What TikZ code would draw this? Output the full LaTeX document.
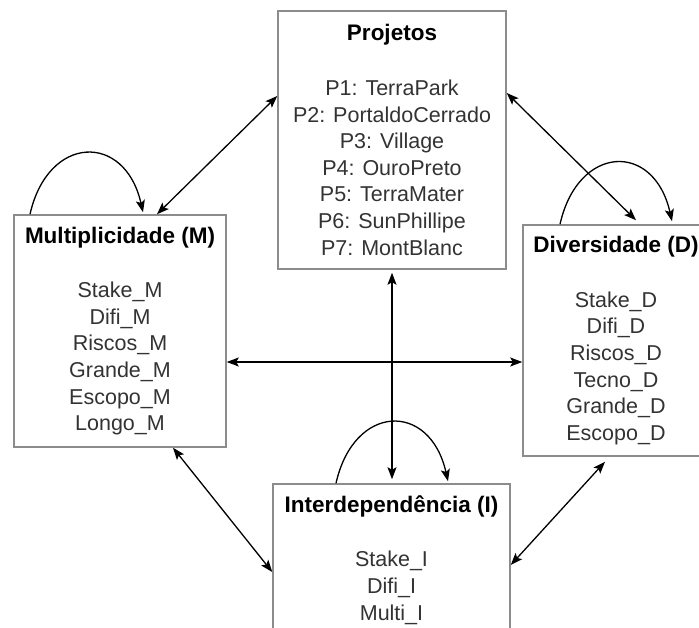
\documentclass[tikz,border=0pt]{standalone}
\usepackage{fontspec}
\setmainfont{Liberation Sans}
\usepackage{xcolor}
\usepackage{tikz}
\usetikzlibrary{positioning, arrows.meta, calc}

\definecolor{boxgray}{HTML}{8C8C8C}
\definecolor{itemgray}{HTML}{333333}

\newcommand{\boxtitle}[1]{{\fontsize{22.5}{26.6}\selectfont\color{black}\textbf{#1}}}

\begin{document}
\begin{tikzpicture}[
      x=1pt, y=-1pt,
      box/.style={rectangle, draw=boxgray, line width=1.5pt, inner sep=0pt,
        align=center, text=itemgray, font=\fontsize{21.5}{26.6}\selectfont},
      link/.style={line width=1.3pt, {Stealth[length=12pt,width=9pt,inset=2.5pt]}-{Stealth[length=12pt,width=9pt,inset=2.5pt]}},
      selfloop/.style={line width=1.3pt, -{Stealth[length=12pt,width=9pt,inset=2.5pt]}}
    ]

    % Frame of the picture
    \clip (0,0) rectangle (699,628);
    \fill[white] (0,0) rectangle (699,628);

    % Boxes
    \node[box, minimum width=228pt, minimum height=258pt] (proj) at (392,140)
      {\boxtitle{Projetos}\\[28pt]
       P1: TerraPark\\ P2: PortaldoCerrado\\ P3: Village\\ P4: OuroPreto\\
       P5: TerraMater\\ P6: SunPhillipe\\ P7: MontBlanc};
    \node[box, minimum width=212pt, minimum height=232pt] (mult) at (120,331)
      {\boxtitle{Multiplicidade (M)}\\[28pt]
       Stake\_M\\ Difi\_M\\ Riscos\_M\\ Grande\_M\\ Escopo\_M\\ Longo\_M};
    \node[box, minimum width=186pt, minimum height=231pt] (div) at (616,340.5)
      {\boxtitle{Diversidade (D)}\\[28pt]
       Stake\_D\\ Difi\_D\\ Riscos\_D\\ Tecno\_D\\ Grande\_D\\ Escopo\_D};
    \node[box, minimum width=237pt, minimum height=152pt] (inter) at (391.5,560)
      {\boxtitle{Interdependência (I)}\\[28pt]
       Stake\_I\\ Difi\_I\\ Multi\_I};

    % Links between the boxes
    \draw[link] ([xshift=37pt]mult.north) -- ([yshift=44pt]proj.west);
    \draw[link] ([yshift=47pt]proj.east) -- ([xshift=20pt, yshift=4pt]div.north);
    \draw[link] ([yshift=-3pt]proj.south) -- ([xshift=0.5pt, yshift=4pt]inter.north);
    \draw[link] ([yshift=-31pt]mult.east) -- ([yshift=-21.5pt]div.west);
    \draw[link] ([xshift=53pt]mult.south) -- ([yshift=-12pt]inter.west);
    \draw[link] ([xshift=-11pt, yshift=-5pt]div.south) -- ([yshift=-5pt]inter.east);

    % Self loops
    \draw[selfloop] ([xshift=-90pt]mult.north) .. controls +(18,-80) and +(-18,-80) .. ([xshift=23pt, yshift=2pt]mult.north);
    \draw[selfloop] ([xshift=-56pt]div.north) .. controls +(18,-80) and +(-18,-80) .. ([xshift=56pt, yshift=3pt]div.north);
    \draw[selfloop] ([xshift=-55.5pt]inter.north) .. controls +(18,-80) and +(-18,-80) .. ([xshift=56.5pt, yshift=2pt]inter.north);

  \end{tikzpicture}
\end{document}
